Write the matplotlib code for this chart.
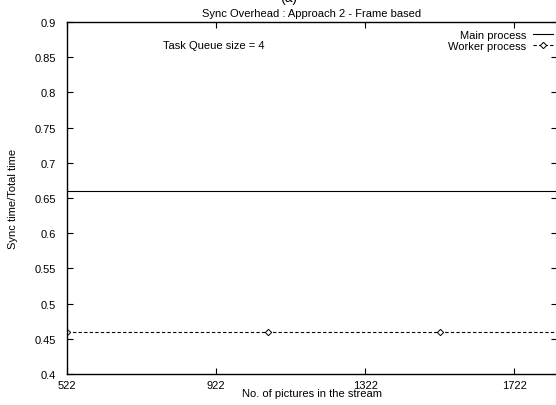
import matplotlib
matplotlib.use("Agg")
import matplotlib.pyplot as plt
from matplotlib.lines import Line2D

plt.rcParams['font.family'] = ['Liberation Sans', 'DejaVu Sans']

# Data
x_range = [522, 1837]
main_ratio = [0.66, 0.66]
worker_x = [522, 1062, 1522]
worker_ratio = [0.46, 0.46, 0.46]
worker_line = [0.46, 0.46]
x_ticks = [522, 922, 1322, 1722]
y_ticks = [0.4, 0.45, 0.5, 0.55, 0.6, 0.65, 0.7, 0.75, 0.8, 0.85, 0.9]

W, H = 556, 406
fig = plt.figure(figsize=(W / 100, H / 100), dpi=100)
left, right, top, bottom = 67, 557, 23, 375
ax = fig.add_axes([left / W, 1 - bottom / H, (right - left) / W, (bottom - top) / H])

fs = 8
ax.plot(x_range, main_ratio, color='black', lw=0.8)
ax.plot(x_range, worker_line, color='black', lw=0.8, ls=(0, (3, 2)))
ax.plot(worker_x, worker_ratio, ls='none', marker='D', ms=3.2, mfc='white',
        mec='black', mew=0.7)

ax.set_xlim(x_range)
ax.set_ylim(0.4, 0.9)
ax.set_xticks(x_ticks)
ax.set_xticklabels([str(v) for v in x_ticks])
ax.set_yticks(y_ticks)
ax.set_yticklabels(['%g' % v for v in y_ticks])
ax.tick_params(direction='in', top=True, right=True, length=4, width=0.8,
               labelsize=fs)
ax.tick_params(axis='y', pad=8)
ax.tick_params(axis='x', pad=4)
for s in ax.spines.values():
    s.set_linewidth(1.0)

ax.set_xlabel('No. of pictures in the stream', fontsize=fs, labelpad=-1)
ax.set_ylabel('Sync time/Total time', fontsize=fs, labelpad=12)
ax.set_title('Sync Overhead : Approach 2 - Frame based', fontsize=fs, pad=4)
fig.text(0.52, 1.0 + 2 / H, '(a)', fontsize=10, ha='center', va='center')

fig.text(163 / W, 1 - 46 / H, 'Task Queue size = 4', fontsize=fs,
         ha='left', va='center')

handles = [Line2D([], [], color='black', lw=0.8),
           Line2D([], [], color='black', lw=0.8, ls=(0, (3, 2)), marker='D', ms=3.2,
                  mfc='white', mec='black', mew=0.7)]
leg = ax.legend(handles, ['Main process', 'Worker process'], loc='upper right',
                bbox_to_anchor=(1 - 4 / (right - left), 1 - 8 / (bottom - top)),
                frameon=False, fontsize=fs, markerfirst=False, handlelength=1.8,
                handletextpad=0.6, labelspacing=0.05, borderaxespad=0,
                borderpad=0)
for t in leg.get_texts():
    t.set_ha('right')

fig.savefig('out.png', dpi=100)
